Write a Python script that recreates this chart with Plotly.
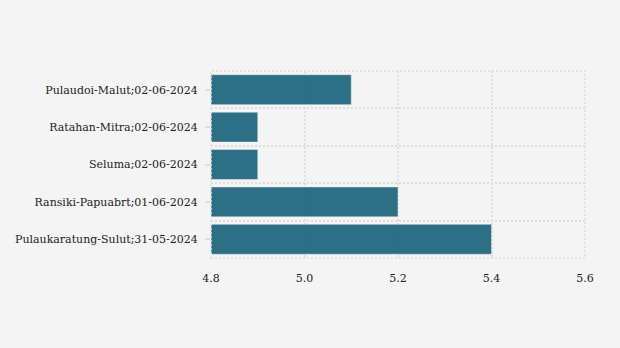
import plotly.graph_objects as go

categories = [
    "Pulaukaratung-Sulut;31-05-2024",
    "Ransiki-Papuabrt;01-06-2024",
    "Seluma;02-06-2024",
    "Ratahan-Mitra;02-06-2024",
    "Pulaudoi-Malut;02-06-2024",
]
values = [5.4, 5.2, 4.9, 4.9, 5.1]
x_ticks = [4.8, 5.0, 5.2, 5.4, 5.6]

idx = list(range(len(categories)))
base = 4.8

fig = go.Figure(go.Bar(
    y=idx,
    x=[v - base for v in values],
    base=base,
    orientation="h",
    marker=dict(color="#1d647b", opacity=0.92, line=dict(color="#e8eef0", width=0.5)),
    hoverinfo="x+y",
))

grid = "#dedede"
dash = "2px,2px"
fig.update_layout(
    width=620, height=348,
    margin=dict(l=211, r=35, t=71, b=90),
    paper_bgcolor="#f4f4f4",
    plot_bgcolor="#f4f4f4",
    bargap=0.2,
    showlegend=False,
    font=dict(family="DejaVu Serif", size=11, color="#222222"),
    xaxis=dict(
        range=[4.8, 5.6],
        tickvals=x_ticks,
        ticktext=[f"{t:.1f}" for t in x_ticks],
        showgrid=True, gridcolor=grid, griddash=dash, gridwidth=1.5,
        zeroline=False, showline=False, ticks="",
        ticklabelstandoff=12,
        tickfont=dict(size=11),
    ),
    yaxis=dict(
        range=[-0.5, 4.5],
        tickvals=idx,
        ticktext=categories,
        showgrid=False, zeroline=False, showline=False,
        ticks="outside", ticklen=5, tickcolor="#e0e0e0", tickwidth=1.5,
        ticklabelstandoff=5,
        minor=dict(tick0=0.5, dtick=1, showgrid=True, gridcolor=grid,
                   griddash=dash, gridwidth=1.5, ticks=""),
        tickfont=dict(size=11),
    ),
    shapes=[dict(type="rect", xref="paper", yref="paper", x0=0, x1=1, y0=0, y1=1,
                 line=dict(color=grid, width=1.5, dash=dash), layer="above")],
)

fig.write_html("out.html")
